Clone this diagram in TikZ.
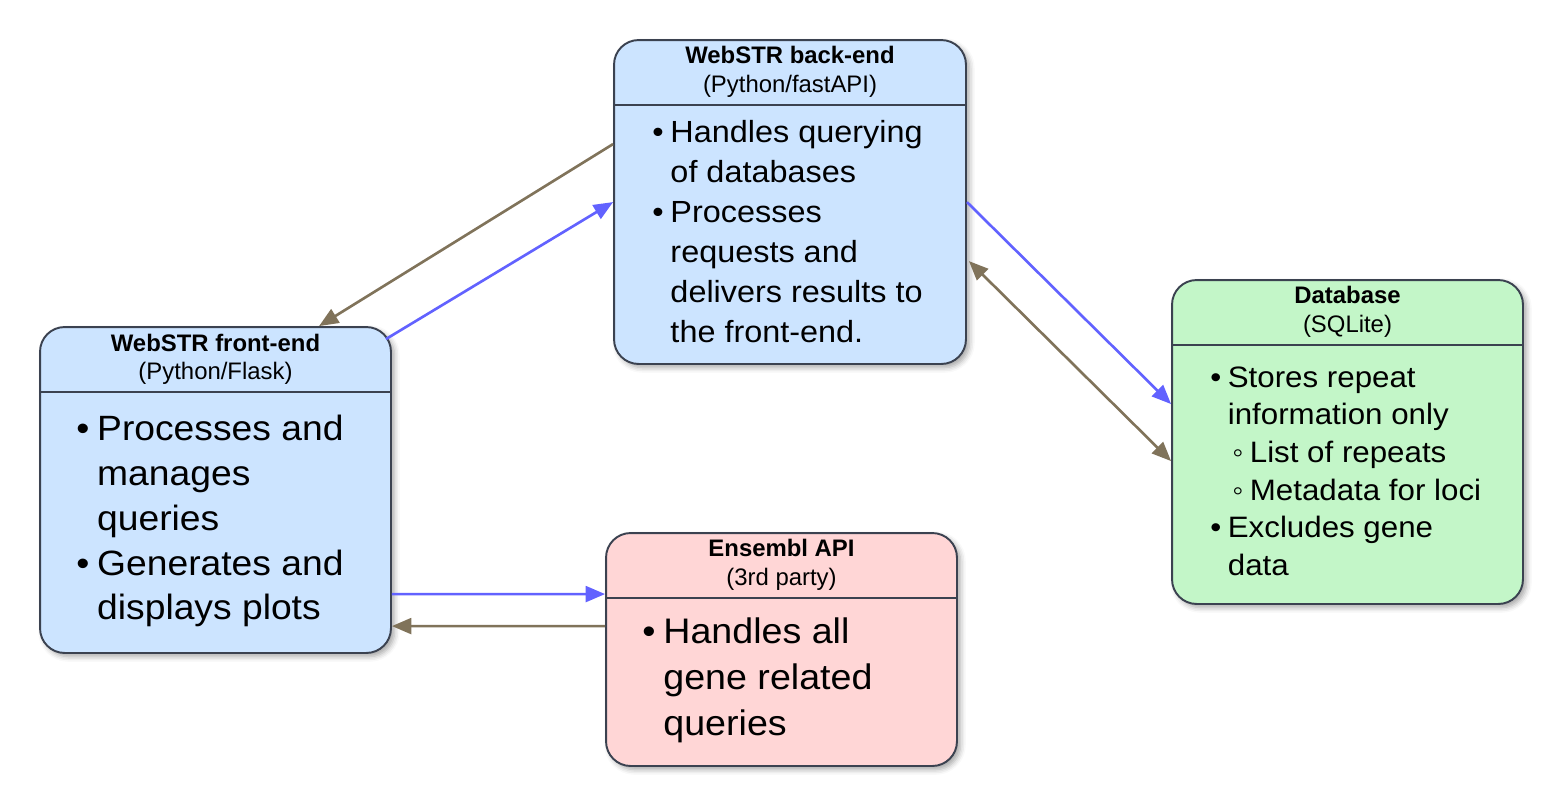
\documentclass[tikz,border=0pt]{standalone}
\usepackage{fontspec}
\setmainfont{Liberation Sans}
\newfontfamily\bodyfont[FakeStretch=1.06]{Liberation Sans}
\usetikzlibrary{calc,arrows.meta,shadows.blur}

\definecolor{edge}{HTML}{3B4250}
\definecolor{paleblue}{HTML}{CCE4FF}
\definecolor{palegreen}{HTML}{C3F6C8}
\definecolor{palepink}{HTML}{FFD6D6}
\definecolor{reqblue}{HTML}{6262FF}
\definecolor{respbrown}{HTML}{80735A}

\newcommand{\boxtitle}[2]{\begin{tabular}[t]{@{}c@{}}\textbf{#1}\\#2\end{tabular}}

\begin{document}
\begin{tikzpicture}[x=0.02cm,y=-0.02cm,
    box/.style={draw=edge, line width=1.1pt, rounded corners=14pt,
        blur shadow={shadow xshift=2pt, shadow yshift=-2pt, shadow blur radius=3pt, shadow opacity=35}},
    divider/.style={draw=edge, line width=0.9pt},
    title/.style={anchor=base, inner sep=0pt, font=\fontsize{13.6}{16.2}\selectfont},
    body/.style={anchor=base west, inner sep=0pt},
    req/.style={draw=reqblue, line width=1.5pt, -{Triangle[length=11pt,width=9pt]}},
    resp/.style={draw=respbrown, line width=1.5pt, -{Triangle[length=11pt,width=9pt]}}]

    \useasboundingbox (0,0) rectangle (1563,806);

    % boxes
    \node[box, fill=paleblue, minimum width=7.04cm, minimum height=6.48cm] (back) at (790,202) {};
    \node[box, fill=paleblue, minimum width=7.02cm, minimum height=6.52cm] (front) at (215.5,490) {};
    \node[box, fill=palegreen, minimum width=7.02cm, minimum height=6.48cm] (db) at (1347.5,442) {};
    \node[box, fill=palepink, minimum width=7.02cm, minimum height=4.66cm] (ens) at (781.5,649.5) {};

    \foreach \b in {back,front,db,ens}
        \draw[divider] ($(\b.north west)+(0,66)$) -- ($(\b.north east)+(0,66)$);

    % titles
    \node[title] (backtitle) at ($(back.north)+(0,24.5)$) {\boxtitle{WebSTR back-end}{(Python/fastAPI)}};
    \node[title] (fronttitle) at ($(front.north)+(0,25)$) {\boxtitle{WebSTR front-end}{(Python/Flask)}};
    \node[title] (dbtitle) at ($(db.north)+(0,24.5)$) {\boxtitle{Database}{(SQLite)}};
    \node[title] (enstitle) at ($(ens.north)+(0,24.5)$) {\boxtitle{Ensembl API}{(3rd party)}};

    % bullet lists
    \node[body, font=\bodyfont\fontsize{17.4}{22.8}\selectfont] (backtxt) at ($(back.north west)+(39,103)$)
        {\begin{tabular}[t]{@{}l@{\hspace{0.22em}}l@{}}
        \textbullet & Handles querying\\
         & of databases\\
        \textbullet & Processes\\
         & requests and\\
         & delivers results to\\
         & the front-end.
        \end{tabular}};
    \node[body, font=\bodyfont\fontsize{20.0}{25.6}\selectfont] (fronttxt) at ($(front.north west)+(37,114)$)
        {\begin{tabular}[t]{@{}l@{\hspace{0.22em}}l@{}}
        \textbullet & Processes and\\
         & manages\\
         & queries\\
        \textbullet & Generates and\\
         & displays plots
        \end{tabular}};
    \node[body, font=\bodyfont\fontsize{16.8}{21.45}\selectfont] (dbtxt) at ($(db.north west)+(39,108)$)
        {\begin{tabular}[t]{@{}l@{\hspace{0.22em}}l@{}}
        \textbullet & Stores repeat\\
         & information only\\
         & \hspace{0.15em}◦\hspace{0.22em}List of repeats\\
         & \hspace{0.15em}◦\hspace{0.22em}Metadata for loci\\
        \textbullet & Excludes gene\\
         & data
        \end{tabular}};
    \node[body, font=\bodyfont\fontsize{20.2}{26.2}\selectfont] (enstxt) at ($(ens.north west)+(37,111.5)$)
        {\begin{tabular}[t]{@{}l@{\hspace{0.22em}}l@{}}
        \textbullet & Handles all\\
         & gene related\\
         & queries
        \end{tabular}};

    % requests and responses
    \draw[resp] ($(back.north west)+(0,105)$) -- ($(front.north west)+(280,0)$);
    \draw[req] ($(front.north east)+(-6,13)$) -- ($(back.north west)+(0,163)$);
    \draw[req] ($(back.north east)+(0,163)$) -- ($(db.north west)+(0,125)$);
    \draw[resp, {Triangle[length=11pt,width=9pt]}-{Triangle[length=11pt,width=9pt]}]
        ($(back.north east)+(2,222)$) -- ($(db.north west)+(0,182)$);
    \draw[req] ($(front.north east)+(0,268)$) -- ($(ens.north west)+(0,62)$);
    \draw[resp] ($(ens.north west)+(0,94)$) -- ($(front.north east)+(0,300)$);
\end{tikzpicture}
\end{document}
